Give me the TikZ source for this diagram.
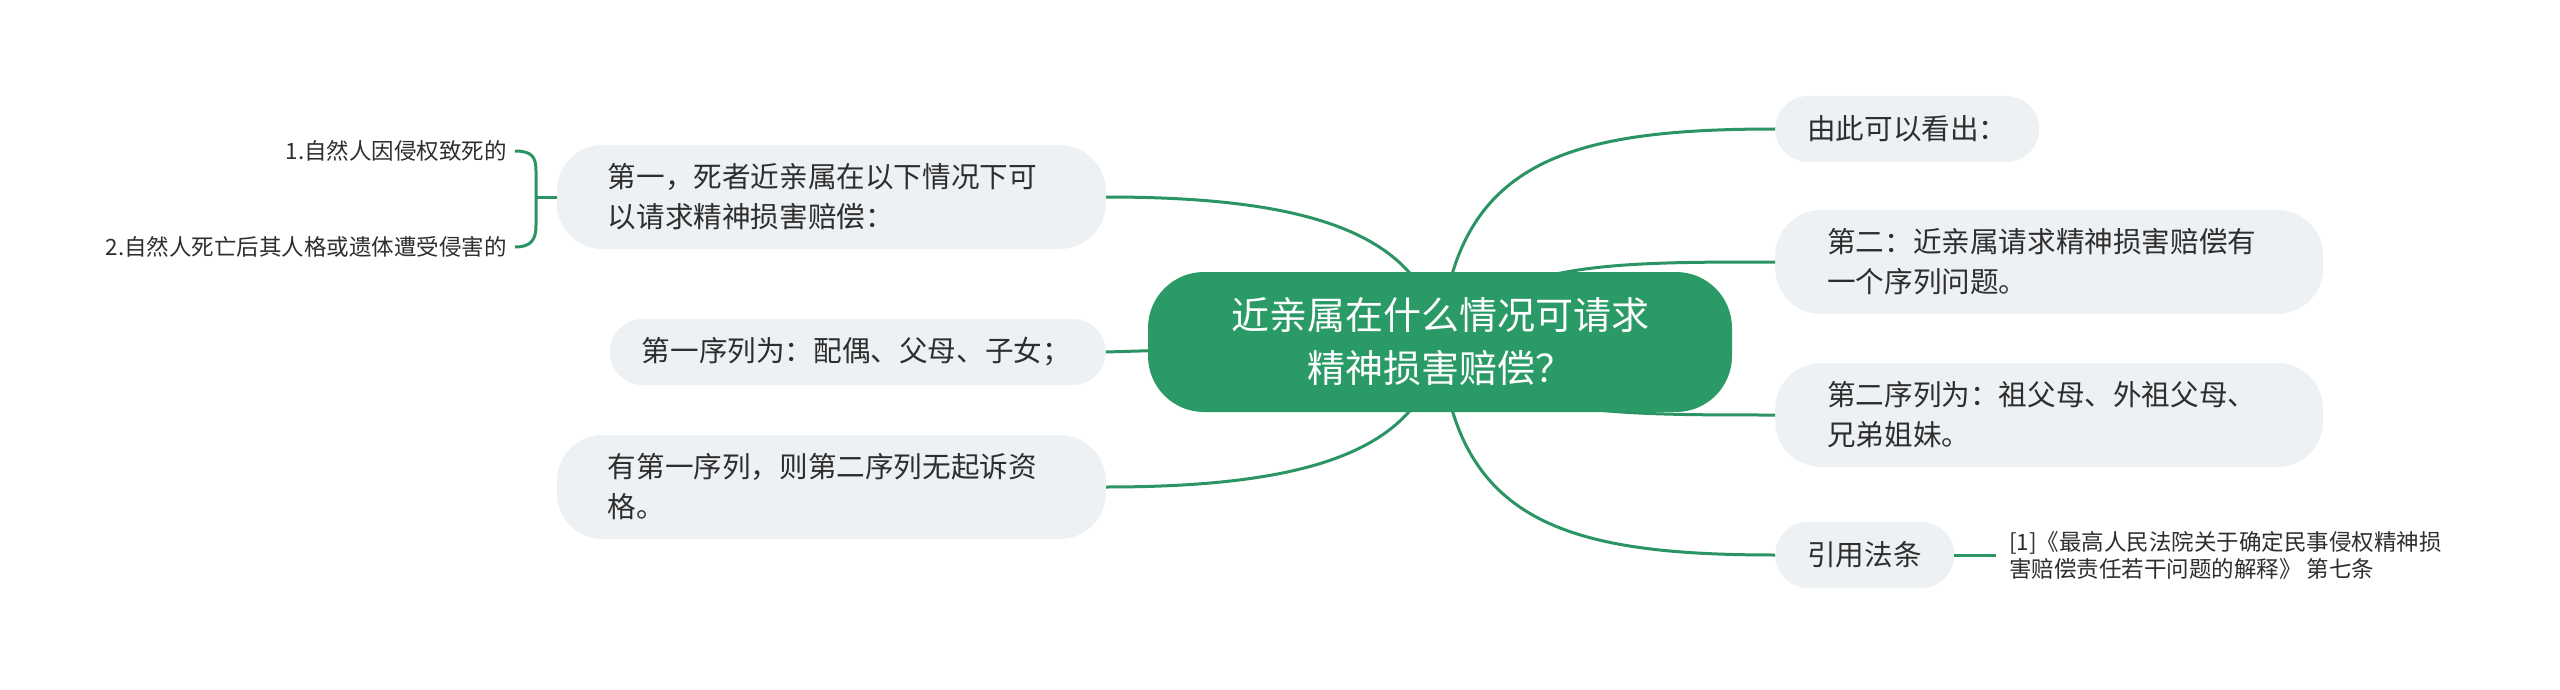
\documentclass[tikz,border=0pt]{standalone}
\usepackage{fontspec}
\setmainfont{Noto Sans CJK SC}
\definecolor{hubgreen}{HTML}{2A9A66}
\definecolor{linkgreen}{HTML}{2B9465}
\definecolor{boxgray}{HTML}{EEF1F4}
\definecolor{txtgray}{HTML}{2E2E2E}
\tikzset{
	link/.style={draw=linkgreen, line width=3pt},
	hubbox/.style={fill=hubgreen, rounded corners=56pt, text=white, align=center, minimum width=584pt, minimum height=140pt, font=\fontsize{38}{53}\selectfont},
	subtwo/.style={fill=boxgray, rounded corners=46pt, text=txtgray, align=left, inner ysep=0pt, minimum height=104pt, font=\fontsize{28.6}{40}\selectfont},
	subone/.style={fill=boxgray, rounded corners=33pt, text=txtgray, align=left, inner ysep=0pt, minimum height=66pt, font=\fontsize{28.6}{40}\selectfont},
	leaftext/.style={text=txtgray, align=left, inner ysep=0pt, font=\fontsize{22.5}{27}\selectfont},
}

\begin{document}
\begin{tikzpicture}[x=1pt, y=-1pt]
		%%%%% START %%%%%
		
		\useasboundingbox[fill=white] (0, 0) rectangle (2560, 690);
		
		% left side
		\node[subtwo, anchor=east, text width=447pt, inner xsep=51pt] (l1) at (1106, 197) {第一，死者近亲属在以下情况下可\\以请求精神损害赔偿：};
		\node[subone, anchor=east, text width=432pt, inner xsep=32pt] (l2) at (1106, 352) {第一序列为：配偶、父母、子女；};
		\node[subtwo, anchor=east, text width=447pt, inner xsep=51pt] (l3) at (1106, 487) {有第一序列，则第二序列无起诉资\\格。};
		
		\node[leaftext, anchor=east, inner xsep=8pt] (lf1) at (515, 151) {1.自然人因侵权致死的};
		\node[leaftext, anchor=east, inner xsep=8pt] (lf2) at (515, 247) {2.自然人死亡后其人格或遗体遭受侵害的};
		
		% right side
		\node[subone, anchor=west, text width=200pt, inner xsep=32pt] (r1) at (1775, 129) {由此可以看出：};
		\node[subtwo, anchor=west, text width=444pt, inner xsep=52pt] (r2) at (1775, 262) {第二：近亲属请求精神损害赔偿有\\一个序列问题。};
		\node[subtwo, anchor=west, text width=444pt, inner xsep=52pt] (r3) at (1775, 415) {第二序列为：祖父母、外祖父母、\\兄弟姐妹。};
		\node[subone, anchor=west, text width=115pt, inner xsep=32pt] (r4) at (1775, 555) {引用法条};
		
		\node[leaftext, anchor=west, inner xsep=13pt] (law) at (1996, 555) {[1]《最高人民法院关于确定民事侵权精神损\\害赔偿责任若干问题的解释》 第七条};
		
		% links
		\coordinate (hubc) at (1440, 342);
		\draw[link] (l1.east) .. controls +(200, 0) and +(-15, -110) .. (hubc);
		\draw[link] (l2.east) -- (hubc);
		\draw[link] (l3.east) .. controls +(200, 0) and +(-15, 110) .. (hubc);
		\draw[link] (hubc) .. controls +(15, -180) and +(-210, 0) .. (r1.west);
		\draw[link] (hubc) .. controls +(60, -80) and +(-170, 0) .. (r2.west);
		\draw[link] (hubc) .. controls +(60, 73) and +(-170, 0) .. (r3.west);
		\draw[link] (hubc) .. controls +(15, 180) and +(-210, 0) .. (r4.west);
		\draw[link] (r4.east) -- (law.west);
		
		% brace
		\draw[link] (lf1.east) .. controls +(17, 0) and +(0, -14) .. ++(21, 20) -- ++(0, 54) .. controls +(0, 14) and +(17, 0) .. (lf2.east);
		\draw[link] (l1.west) -- ++(-21, 0);
		
		\node[hubbox] (hub) at (hubc) {近亲属在什么情况可请求\\精神损害赔偿？};
		
		%%%%% END %%%%%
\end{tikzpicture}
\end{document}
